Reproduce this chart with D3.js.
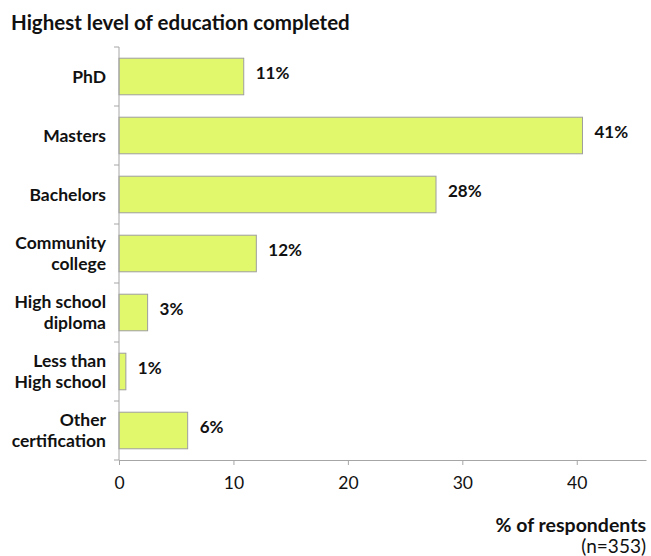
<!DOCTYPE html>
<html>
<head>
<meta charset="utf-8">
<script src="https://cdn.jsdelivr.net/npm/d3@7"></script>
<style>
  html, body { margin: 0; padding: 0; background: #fff; }
  svg { display: block; font-family: Lato, "Open Sans", sans-serif; }
</style>
</head>
<body>
<svg id="chart" width="651" height="556"></svg>
<script>
// Survey: highest level of education completed (n=353)
const categories = [
  ["PhD"],
  ["Masters"],
  ["Bachelors"],
  ["Community", "college"],
  ["High school", "diploma"],
  ["Less than", "High school"],
  ["Other", "certification"]
];
const values = [10.9, 40.5, 27.7, 12.0, 2.5, 0.6, 6.0];
const valueLabels = ["11%", "41%", "28%", "12%", "3%", "1%", "6%"];
const xTicks = [0, 10, 20, 30, 40];

const svg = d3.select("#chart");
const axisColor = "#a6a6a6";
const textColor = "#111";

const x = d3.scaleLinear().domain([0, 46.05]).range([119, 646]);
const keys = categories.map(c => c.join(" "));
const y = d3.scaleBand().domain(keys).range([47, 460]).paddingInner(0.38).paddingOuter(0.19);

// Title
svg.append("text")
  .attr("x", 11).attr("y", 30)
  .attr("font-size", 20.5).attr("font-weight", "bold").attr("fill", textColor)
  .text("Highest level of education completed");

// Bars
svg.append("g").selectAll("rect")
  .data(values)
  .join("rect")
  .attr("x", x(0))
  .attr("y", (d, i) => y(keys[i]))
  .attr("width", d => x(d) - x(0))
  .attr("height", y.bandwidth())
  .attr("fill", "#e1f76c")
  .attr("stroke", "#9e9e9e")
  .attr("stroke-width", 1);

// Value labels
svg.append("g").selectAll("text")
  .data(values)
  .join("text")
  .attr("x", d => x(d) + 12)
  .attr("y", (d, i) => y(keys[i]) + y.bandwidth() / 2 - 3)
  .attr("dy", "0.35em")
  .attr("font-size", 17).attr("font-weight", "bold").attr("fill", textColor)
  .text((d, i) => valueLabels[i]);

// Y axis: line with category separator ticks
const yAxisG = svg.append("g");
yAxisG.append("line")
  .attr("x1", x(0)).attr("x2", x(0))
  .attr("y1", y.range()[0]).attr("y2", y.range()[1])
  .attr("stroke", axisColor);
const bounds = d3.range(categories.length + 1).map(i => y.range()[0] + i * y.step());
yAxisG.selectAll("line.tick")
  .data(bounds)
  .join("line")
  .attr("class", "tick")
  .attr("x1", x(0) - 5).attr("x2", x(0))
  .attr("y1", d => d).attr("y2", d => d)
  .attr("stroke", axisColor);

// Category labels
const catG = svg.append("g").selectAll("text")
  .data(categories)
  .join("text")
  .attr("text-anchor", "end")
  .attr("font-size", 17.5).attr("font-weight", "bold").attr("fill", textColor)
  .attr("transform", (d, i) => `translate(106,${y(keys[i]) + y.bandwidth() / 2})`);
catG.selectAll("tspan")
  .data(d => d.map((t, j) => ({ t, j, n: d.length })))
  .join("tspan")
  .attr("x", 0)
  .attr("y", d => (d.j - (d.n - 1) / 2) * 20.5)
  .attr("dy", "0.35em")
  .text(d => d.t);

// X axis
const xAxis = d3.axisBottom(x).tickValues(xTicks).tickSize(5).tickSizeOuter(0).tickPadding(12);
const xg = svg.append("g")
  .attr("transform", `translate(0,${y.range()[1]})`)
  .call(xAxis);
xg.select(".domain").attr("stroke", axisColor);
xg.selectAll(".tick line").attr("stroke", axisColor);
xg.selectAll(".tick text")
  .attr("font-size", 17.5).attr("fill", textColor)
  .attr("font-family", "Lato, 'Open Sans', sans-serif");

// Axis title
svg.append("text")
  .attr("x", 646).attr("y", 532)
  .attr("text-anchor", "end")
  .attr("font-size", 19.5).attr("font-weight", "bold").attr("fill", textColor)
  .text("% of respondents");
svg.append("text")
  .attr("x", 646).attr("y", 553)
  .attr("text-anchor", "end")
  .attr("font-size", 19).attr("fill", textColor)
  .text("(n=353)");
</script>
</body>
</html>
